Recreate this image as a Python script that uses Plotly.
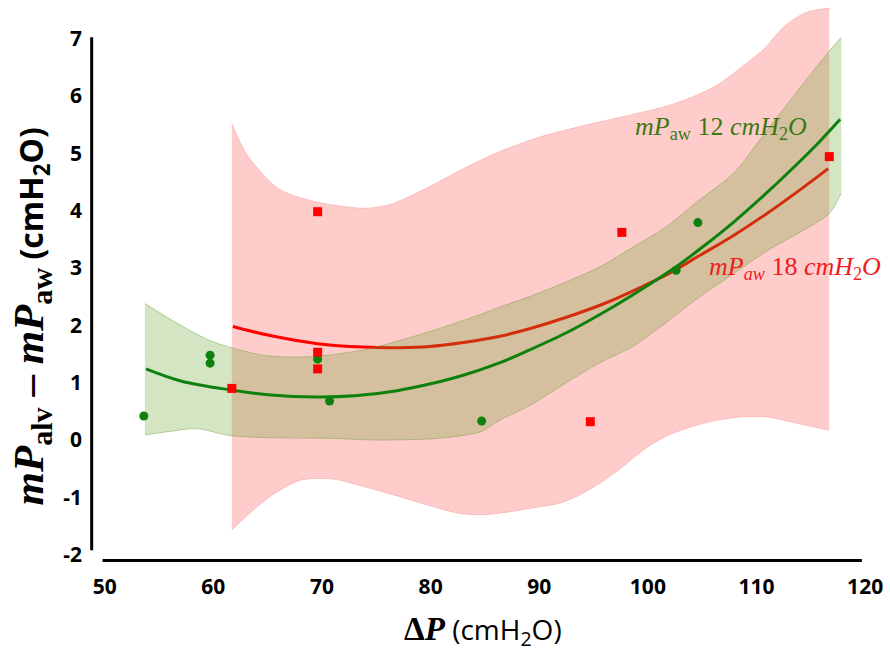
import plotly.graph_objects as go

# Measured points
green_x = [53.6, 59.7, 59.7, 69.6, 70.7, 84.7, 102.6, 104.6]
green_y = [0.42, 1.48, 1.34, 1.41, 0.68, 0.33, 2.96, 3.79]
red_x = [61.7, 69.6, 69.6, 69.6, 94.7, 97.6, 116.7]
red_y = [0.90, 3.98, 1.53, 1.24, 0.32, 3.62, 4.94]

# Fitted trend curves
gfit_x = [53.8, 57, 61.7, 65, 69.6, 73, 76.9, 80, 83.0, 86.4, 89.1, 92.5, 95.5, 98.6,
          102.6, 105, 107.9, 111, 114, 115.8, 117.7]
gfit_y = [1.24, 1.03, 0.87, 0.79, 0.75, 0.77, 0.86, 0.98, 1.13, 1.35, 1.57, 1.87, 2.18, 2.53,
          3.02, 3.36, 3.80, 4.32, 4.86, 5.20, 5.59]
rfit_x = [61.8, 65, 69.6, 73.8, 77, 79.9, 83, 86.4, 89.1, 92.5, 96, 99.3, 102, 104.8,
          108, 110.9, 114, 116.6]
rfit_y = [1.98, 1.83, 1.68, 1.62, 1.61, 1.63, 1.70, 1.81, 1.94, 2.14, 2.38, 2.66, 2.91, 3.22,
          3.58, 3.94, 4.36, 4.73]

# Confidence bands (upper and lower edges)
gband_up_x = [53.7, 57, 60, 64.6, 68.6, 73.8, 79.9, 84, 86.4, 89.1, 92, 95.6, 98.5, 101.7,
              104.5, 107.9, 110.3, 113, 115.5, 117.0, 117.8]
gband_up_y = [2.38, 2.00, 1.71, 1.48, 1.45, 1.57, 1.89, 2.15, 2.32, 2.50, 2.72, 3.02, 3.35, 3.72,
              4.15, 4.65, 5.23, 5.90, 6.50, 6.85, 7.02]
gband_lo_x = [53.7, 56, 58.4, 61.5, 65, 70.7, 75, 80, 83.0, 84.7, 86.4, 89.1, 92.5, 95.6,
              98.6, 101.7, 104.8, 107.9, 111, 114, 116.7, 117.8]
gband_lo_y = [0.09, 0.15, 0.20, 0.08, 0.04, 0.03, 0.00, 0.02, 0.08, 0.15, 0.35, 0.60, 1.00, 1.35,
              1.63, 2.05, 2.50, 2.90, 3.30, 3.62, 3.95, 4.30]
rband_up_x = [61.7, 63.0, 66.0, 69.5, 74.1, 76.5, 79.5, 82.7, 86, 90, 94.5, 98, 101.7, 104.1,
              106.5, 108.6, 110.6, 112.5, 114.5, 116.7]
rband_up_y = [5.52, 5.00, 4.38, 4.15, 4.04, 4.12, 4.38, 4.70, 5.00, 5.28, 5.50, 5.65, 5.82, 5.98,
              6.20, 6.50, 6.80, 7.20, 7.45, 7.53]
rband_lo_x = [61.7, 63.5, 65.5, 68, 71, 74, 77.2, 80, 82.7, 85, 87.3, 89.5, 91.9, 93.8, 95.6,
              97.6, 99.6, 101.5, 103.5, 106, 108.5, 111, 113.5, 116.7]
rband_lo_y = [-1.57, -1.25, -0.95, -0.70, -0.68, -0.82, -0.99, -1.15, -1.28, -1.30, -1.25, -1.18,
              -1.10, -0.95, -0.75, -0.48, -0.17, 0.05, 0.20, 0.33, 0.40, 0.40, 0.30, 0.17]

x_ticks = [50, 60, 70, 80, 90, 100, 110, 120]
y_ticks = [-2, -1, 0, 1, 2, 3, 4, 5, 6, 7]
y_ticktext = ["-2", "-1", "0", "1", "2", "3", "4", "5", "6", "7"]

SERIF = "Liberation Serif"
SANS = "Open Sans"

fig = go.Figure()


def add_band(xu, yu, xl, yl, edge, fill):
    fig.add_trace(go.Scatter(x=xu, y=yu, mode="lines", hoverinfo="skip",
                             line=dict(color=edge, width=1, shape="spline", smoothing=0.8)))
    fig.add_trace(go.Scatter(x=xl, y=yl, mode="lines", hoverinfo="skip", fill="tonexty",
                             fillcolor=fill,
                             line=dict(color=edge, width=1, shape="spline", smoothing=0.8)))


add_band(rband_up_x, rband_up_y, rband_lo_x, rband_lo_y,
         "rgba(240,120,120,0.35)", "rgba(255,0,0,0.2)")
fig.add_trace(go.Scatter(x=rfit_x, y=rfit_y, mode="lines",
                         line=dict(color="#ff0000", width=3, shape="spline")))

add_band(gband_up_x, gband_up_y, gband_lo_x, gband_lo_y,
         "rgba(110,160,60,0.45)", "rgba(100,160,40,0.28)")
fig.add_trace(go.Scatter(x=gfit_x, y=gfit_y, mode="lines",
                         line=dict(color="#0e800e", width=3, shape="spline")))

fig.add_trace(go.Scatter(x=green_x, y=green_y, mode="markers",
                         marker=dict(symbol="circle", size=9, color="#0e800e")))
fig.add_trace(go.Scatter(x=red_x, y=red_y, mode="markers",
                         marker=dict(symbol="square", size=9, color="#ff0000")))

# axis lines
fig.add_shape(type="line", x0=48.8, x1=48.8, y0=-1.92, y1=7.02,
              line=dict(color="black", width=3))
fig.add_shape(type="line", x0=49.8, x1=119.7, y0=-2.10, y1=-2.10,
              line=dict(color="black", width=3))

fig.add_annotation(x=98.6, y=5.44, xanchor="left", yanchor="middle", showarrow=False,
                   text="<i>mP</i><sub>aw</sub> 12 <i>cmH</i><sub>2</sub><i>O</i>",
                   font=dict(family=SERIF, size=26, color="#3a7a10"))
fig.add_annotation(x=105.4, y=3.0, xanchor="left", yanchor="middle", showarrow=False,
                   text="<i>mP</i><sub><i>aw</i></sub> 18 <i>cmH</i><sub>2</sub><i>O</i>",
                   font=dict(family=SERIF, size=26, color="#ee1c1c"))

fig.add_annotation(xref="paper", yref="paper", x=-0.0647, y=0.45, textangle=-90,
                   showarrow=False, xanchor="center", yanchor="middle",
                   text=("<span style=\"font-family:'Liberation Serif';font-size:43px\">"
                         "<b><i>mP</i></b><sub><b>alv</b></sub><b> – </b>"
                         "<b><i>mP</i></b><sub><b>aw</b></sub></span> "
                         "<b>(cmH<sub>2</sub>O)</b>"),
                   font=dict(family=SANS, size=32, color="black"))
fig.add_annotation(xref="paper", yref="paper", x=0.504, y=-0.104,
                   showarrow=False, xanchor="center", yanchor="middle",
                   text=("<span style=\"font-family:'Liberation Serif';font-size:33px\">"
                         "<b>Δ<i>P</i></b></span> (cmH<sub>2</sub>O)"),
                   font=dict(family=SANS, size=28, color="black"))

fig.update_layout(
    width=890, height=650,
    margin=dict(l=83, r=14, t=5, b=78),
    paper_bgcolor="white", plot_bgcolor="white",
    showlegend=False,
    xaxis=dict(range=[48, 121], tickvals=x_ticks, showgrid=False, zeroline=False,
               showline=False, ticks="",
               tickfont=dict(family=SANS, size=21, color="black", weight="bold")),
    yaxis=dict(range=[-2.3, 7.583], tickvals=y_ticks, ticktext=y_ticktext,
               showgrid=False, zeroline=False, showline=False, ticks="",
               tickfont=dict(family=SANS, size=21, color="black", weight="bold")),
)

fig.write_html("out.html")
